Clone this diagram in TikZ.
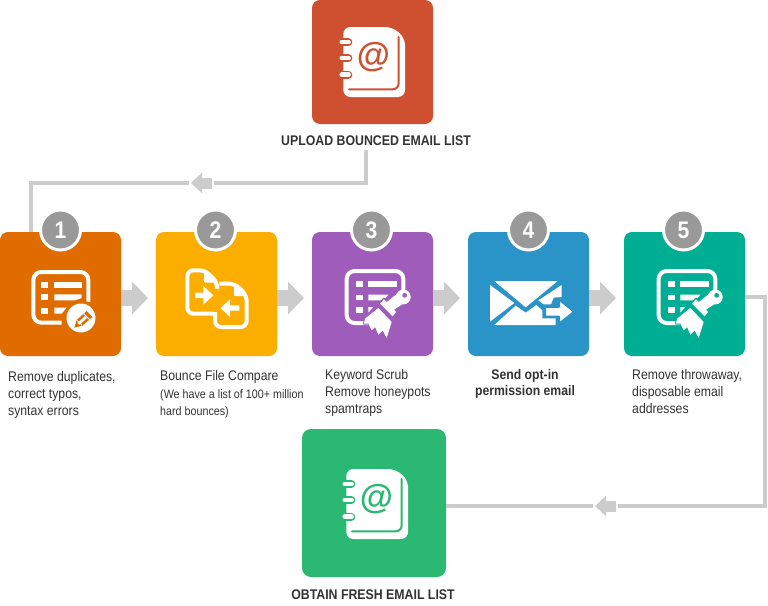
\documentclass[tikz,border=0pt]{standalone}
\usepackage{fontspec}
\setmainfont{Liberation Sans}
\newfontfamily\narrowf[FakeStretch=0.88]{Liberation Sans}
\usetikzlibrary{calc,arrows.meta}
\definecolor{cTop}{HTML}{CF5030}
\definecolor{cOne}{HTML}{E06C00}
\definecolor{cTwo}{HTML}{FBAD00}
\definecolor{cThree}{HTML}{A05CBA}
\definecolor{cFour}{HTML}{2A93C8}
\definecolor{cFive}{HTML}{00AE94}
\definecolor{cBot}{HTML}{2BB872}
\definecolor{cGrey}{HTML}{CCCCCC}
\definecolor{cBadge}{HTML}{999999}
\definecolor{cText}{HTML}{333333}
\tikzset{
  stepbox/.style={rectangle,rounded corners=8pt,minimum width=121pt,minimum height=124pt,inner sep=0pt,outer sep=0pt},
  endbox/.style={rectangle,rounded corners=9pt,minimum width=144pt,minimum height=148pt,inner sep=0pt,outer sep=0pt},
  badge/.style={circle,fill=cBadge,draw=white,line width=3pt,minimum size=40pt,inner sep=0pt,text=white,font=\narrowf\fontsize{24}{24}\selectfont\bfseries},
  desc/.style={anchor=north west,inner sep=0pt,align=left,text=cText,font=\narrowf\fontsize{13.9}{17}\selectfont},
  capt/.style={inner sep=0pt,text=cText,font=\narrowf\fontsize{14}{15}\selectfont\bfseries},
  flowline/.style={draw=cGrey,line width=3.5pt},
  blockarrow/.style={draw=cGrey,line width=16pt,-{Triangle[width=32pt,length=16pt]}},
  miniarrow/.style={draw=cGrey,line width=11pt,-{Triangle[width=20pt,length=11pt]}},
  zoomc/.style={x=0.33333pt,y=-0.33333pt}
}
% notebook icon, drawn in reference crop coordinates (3 units per pixel)
\newcommand{\bookicon}[1]{%
  \fill[white,rounded corners=7pt] (25,15) -- (172,15) -- (210,48) -- (210,225) -- (25,225) -- cycle;
  \draw[#1,line width=2pt,line cap=round,rounded corners=6pt] (191,45) -- (191,202) -- (42,202);
  \foreach \yy in {60,108,158}{
    \draw[#1,line width=8pt,line cap=round] (20,\yy) -- (40,\yy);
    \draw[white,line width=4.4pt,line cap=round] (20,\yy) -- (41,\yy);
  }
  \node[text=#1,inner sep=0pt,font=\fontsize{34}{34}\selectfont\bfseries] at (115,104) {@};
}
\newcommand{\brushicon}[1]{%
  \draw[white,line width=4pt,rounded corners=8pt] (190,90) -- (190,27) -- (20,27) -- (20,183) -- (105,183);
  \fill[white] (47,58) rectangle (68,75);
  \fill[white] (47,98) rectangle (68,115);
  \fill[white] (47,135) rectangle (68,152);
  \fill[white] (85,58) rectangle (170,75);
  \fill[white] (85,98) -- (145,98) -- (130,115) -- (85,115) -- cycle;
  \fill[white] (85,135) -- (100,135) -- (85,152) -- cycle;
  \draw[#1,line width=2pt,line join=round] (75,170) -- (115,138) -- (155,180) -- (140,228) -- (128,205) -- (115,218) -- (105,195) -- (95,205) -- (85,185) -- (72,185) -- cycle;
  \draw[#1,line width=2pt,line join=round] (118,125) -- (132,110) -- (170,150) -- (158,165) -- cycle;
  \draw[#1,line width=2pt] (205,95) -- (150,145);
  \fill[white] (75,170) -- (115,138) -- (155,180) -- (140,228) -- (128,205) -- (115,218) -- (105,195) -- (95,205) -- (85,185) -- (72,185) -- cycle;
  \fill[white] (120,125) -- (132,112) -- (168,150) -- (158,163) -- cycle;
  \fill[white] (138,122) -- (178,90) -- (200,118) -- (158,146) -- cycle;
  \fill[white] (190,105) circle (7.4pt);
  \fill[#1] (194,100) circle (2.4pt);
}
\begin{document}
\begin{tikzpicture}[x=1pt,y=-1pt]
\useasboundingbox (0,0) rectangle (768,605);
\fill[white] (0,0) rectangle (768,605);

% boxes
\node[stepbox,fill=cTop] (top) at (372.5,62) {};
\node[stepbox,fill=cOne] (b1) at (60.5,294) {};
\node[stepbox,fill=cTwo] (b2) at (216.5,294) {};
\node[stepbox,fill=cThree] (b3) at (372.5,294) {};
\node[stepbox,fill=cFour] (b4) at (528.5,294) {};
\node[stepbox,fill=cFive] (b5) at (684.5,294) {};
\node[endbox,fill=cBot] (bot) at (374,503) {};

% captions
\node[capt] (topcap) at (376,141) {UPLOAD BOUNCED EMAIL LIST};
\node[capt] (botcap) at (373,594.5) {OBTAIN FRESH EMAIL LIST};
\node[desc] (t1) at (8,371.5) {Remove duplicates,\\correct typos,\\syntax errors};
\node[desc,font=\narrowf\fontsize{13.9}{13.9}\selectfont] (t2) at (160,370) {Bounce File Compare\\[4.2pt]{\fontsize{12.2}{15}\selectfont (We have a list of 100+ million}\\[3.2pt]{\fontsize{12.2}{15}\selectfont hard bounces)}};
\node[desc] (t3) at (325,369) {Keyword Scrub\\Remove honeypots\\spamtraps};
\node[desc,anchor=north,align=center,font=\narrowf\fontsize{13.9}{16}\selectfont\bfseries] (t4) at (525,369) {Send opt-in\\permission email};
\node[desc] (t5) at (632,369) {Remove throwaway,\\disposable email\\addresses};

% block arrows between steps
\draw[blockarrow] ($(b1.east)+(0,4)$) -- ($(b2.west)+(-8,4)$);
\draw[blockarrow] ($(b2.east)+(0,4)$) -- ($(b3.west)+(-8,4)$);
\draw[blockarrow] ($(b3.east)+(0,4)$) -- ($(b4.west)+(-8,4)$);
\draw[blockarrow] ($(b4.east)+(0,4)$) -- ($(b5.west)+(-8,4)$);

% flow from the upload caption to step 1
\coordinate (ua) at (366,150);
\coordinate (ub) at (214,183);
\coordinate (uc) at (212,183);
\coordinate (ud) at (191,183);
\coordinate (ue) at (188.5,183);
\draw[flowline] (ua) |- (ub);
\draw[miniarrow] (uc) -- (ud);
\draw[flowline] (ue) -| ($(b1.north west)+(31,0)$);

% flow from step 5 to the fresh list
\coordinate (fa) at (765,506);
\coordinate (fb) at (618,506);
\coordinate (fc) at (616,506);
\coordinate (fd) at (595,506);
\coordinate (fe) at (592.5,506);
\draw[flowline] ($(b5.east)+(0,3)$) -| (fa) -- (fb);
\draw[miniarrow] (fc) -- (fd);
\draw[flowline] (fe) -- (bot.east|-fe);

% badges
\node[badge] (n1) at (60.5,230) {1};
\node[badge] (n2) at (215.5,230) {2};
\node[badge] (n3) at (371.5,230) {3};
\node[badge] (n4) at (528.5,230) {4};
\node[badge] (n5) at (683.5,230) {5};

% notebook icons
\begin{scope}[shift={(335,22)},zoomc]
\bookicon{cTop}
\end{scope}
\begin{scope}[shift={(338,464)},zoomc]
\bookicon{cBot}
\end{scope}

% step 1 icon
\begin{scope}[shift={(25,262)},zoomc]
  \draw[white,line width=4pt,rounded corners=8pt] (110,182) -- (25,182) -- (25,30) -- (190,30) -- (190,120);
  \fill[white] (47,60) rectangle (70,77);
  \fill[white] (47,97) rectangle (70,115);
  \fill[white] (47,137) rectangle (70,155);
  \fill[white] (88,60) rectangle (170,77);
  \fill[white] (88,97) -- (170,97) -- (170,108) -- (150,115) -- (88,115) -- cycle;
  \fill[white] (88,137) -- (125,137) -- (110,155) -- (88,155) -- cycle;
  \fill[cOne] (168,168) circle (17.5pt);
  \fill[white] (168,168) circle (14.5pt);
  \fill[cOne,line join=round] (148,197) -- (155,174) -- (185,147) -- (202,165) -- (172,191) -- cycle;
  \draw[white,line width=0.9pt] (176,155) -- (194,173);
  \draw[white,line width=0.9pt] (156,175) -- (171,190);
  \fill[white] (157,183) -- (180,162) -- (186,168) -- (164,188) -- cycle;
\end{scope}

% step 2 icon
\begin{scope}[shift={(180,262)},zoomc]
  \draw[white,line width=4pt,rounded corners=6pt] (100,155) -- (22,155) -- (22,25) -- (76,25) -- (112,62) -- (112,75);
  \fill[white,rounded corners=1pt] (72,25) -- (112,62) -- (72,62) -- cycle;
  \draw[white,line width=4pt,rounded corners=6pt] (105,150) -- (105,195) -- (200,195) -- (200,100) -- (165,65) -- (118,65);
  \fill[white,rounded corners=1pt] (162,65) -- (200,102) -- (162,102) -- cycle;
  \fill[white] (45,92) -- (70,92) -- (70,72) -- (100,100) -- (70,128) -- (70,108) -- (45,108) -- cycle;
  \fill[white] (178,130) -- (150,130) -- (150,112) -- (122,138) -- (150,165) -- (150,146) -- (178,146) -- cycle;
\end{scope}

% step 3 and 5 icons
\begin{scope}[shift={(340,262)},zoomc]
\brushicon{cThree}
\end{scope}
\begin{scope}[shift={(652,262)},zoomc]
\brushicon{cFive}
\end{scope}

% step 4 icon
\begin{scope}[shift={(485,275)},zoomc]
  \fill[white] (28,18) -- (218,18) -- (122,97) -- cycle;
  \fill[white] (15,30) -- (88,84) -- (15,140) -- cycle;
  \fill[white] (230,30) -- (230,66) -- (206,68) -- (198,88) -- (176,88) -- (160,76) -- cycle;
  \fill[white] (28,150) -- (92,92) -- (122,113) -- (154,90) -- (172,106) -- (172,130) -- (212,130) -- (212,150) -- cycle;
  \draw[cFour,line width=2.2pt,fill=white,line join=round] (180,95) -- (222,95) -- (222,73) -- (268,110) -- (222,147) -- (222,125) -- (180,125) -- cycle;
\end{scope}
\end{tikzpicture}
\end{document}
